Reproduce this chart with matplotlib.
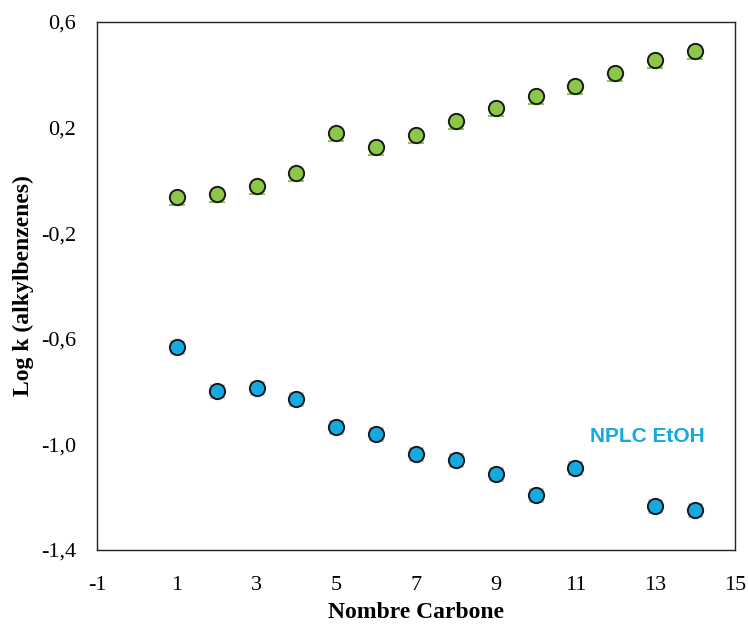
import matplotlib.pyplot as plt
from matplotlib.path import Path
from matplotlib.ticker import FuncFormatter

plt.rcParams['axes.unicode_minus'] = False

carbon = [1, 2, 3, 4, 5, 6, 7, 8, 9, 10, 11, 12, 13, 14]
logk_green = [-0.063, -0.050, -0.020, 0.028, 0.178, 0.127, 0.173, 0.225, 0.274, 0.320, 0.358, 0.407, 0.456, 0.490]
carbon_blue = [1, 2, 3, 4, 5, 6, 7, 8, 9, 10, 11, 13, 14]
logk_blue = [-0.631, -0.798, -0.786, -0.828, -0.934, -0.961, -1.036, -1.059, -1.112, -1.192, -1.089, -1.233, -1.248]

green = '#8CC74A'
blue = '#14A9E0'

fig = plt.figure(figsize=(7.48, 6.24), dpi=100)
ax = fig.add_axes([0.1297, 0.1186, 0.8529, 0.8461])

# small line under each green marker
under = Path([(-1, -1), (1, -1)], [Path.MOVETO, Path.LINETO])
ax.plot(carbon, logk_green, linestyle='none', marker=under, markersize=11,
        markeredgecolor=green, markeredgewidth=1.5, zorder=2)
ax.plot(carbon, logk_green, linestyle='none', marker='o', markersize=11,
        markerfacecolor=green, markeredgecolor='#1a1a1a', markeredgewidth=1.4, zorder=3)

ax.plot(carbon_blue, logk_blue, linestyle='none', marker='x', markersize=10.5,
        markeredgecolor='#8A6BB5', markeredgewidth=0.6, zorder=2)
ax.plot(carbon_blue, logk_blue, linestyle='none', marker='o', markersize=11,
        markerfacecolor=blue, markeredgecolor='#1a1a1a', markeredgewidth=1.4, zorder=3)

ax.text(12.8, -0.97, 'NPLC EtOH', color=blue, fontsize=15, fontweight='bold',
        family='Liberation Sans', ha='center', va='center')

ax.set_xlim(-1, 15)
ax.set_ylim(-1.4, 0.6)
ax.set_xticks([-1, 1, 3, 5, 7, 9, 11, 13, 15])
ax.set_yticks([-1.4, -1.0, -0.6, -0.2, 0.2, 0.6])
ax.yaxis.set_major_formatter(FuncFormatter(lambda v, p: f'{v:.1f}'.replace('.', ',')))
ax.tick_params(length=0, labelsize=16)
ax.tick_params(axis='x', pad=19)
ax.tick_params(axis='y', pad=15)
for lab in ax.get_xticklabels() + ax.get_yticklabels():
    lab.set_family('Liberation Serif')
for s in ax.spines.values():
    s.set_linewidth(1.0)
    s.set_color('#222222')

ax.set_xlabel('Nombre Carbone', fontsize=17, fontweight='bold', family='Liberation Serif', labelpad=5)
ax.set_ylabel('Log k (alkylbenzenes)', fontsize=17, fontweight='bold', family='Liberation Serif', labelpad=5)

fig.savefig('out.png', dpi=100)
